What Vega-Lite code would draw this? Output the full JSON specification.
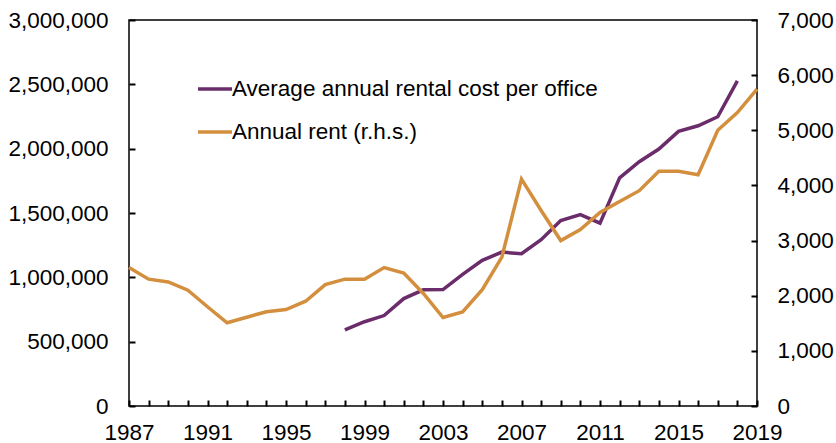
{
  "$schema": "https://vega.github.io/schema/vega-lite/v6.json",
  "width": 628,
  "height": 386,
  "autosize": {"type": "none"},
  "padding": {"left": 129, "top": 20, "right": 79, "bottom": 37},
  "background": "white",
  "config": {
    "font": "Liberation Sans",
    "view": {"stroke": "black", "strokeWidth": 1.5},
    "axis": {"labelFont": "Liberation Sans", "labelFontSize": 22.5, "labelColor": "black", "domain": false, "ticks": true, "tickColor": "#000000", "tickOpacity": 1, "grid": false, "title": null, "tickWidth": 2, "tickSize": 6, "offset": -6, "zindex": 2}
  },
  "data": {"values": [
    {"year": 1998, "series": "Average annual rental cost per office", "value": 592000},
    {"year": 1999, "series": "Average annual rental cost per office", "value": 655000},
    {"year": 2000, "series": "Average annual rental cost per office", "value": 703000},
    {"year": 2001, "series": "Average annual rental cost per office", "value": 835000},
    {"year": 2002, "series": "Average annual rental cost per office", "value": 903000},
    {"year": 2003, "series": "Average annual rental cost per office", "value": 905000},
    {"year": 2004, "series": "Average annual rental cost per office", "value": 1023000},
    {"year": 2005, "series": "Average annual rental cost per office", "value": 1132000},
    {"year": 2006, "series": "Average annual rental cost per office", "value": 1196000},
    {"year": 2007, "series": "Average annual rental cost per office", "value": 1183000},
    {"year": 2008, "series": "Average annual rental cost per office", "value": 1292000},
    {"year": 2009, "series": "Average annual rental cost per office", "value": 1442000},
    {"year": 2010, "series": "Average annual rental cost per office", "value": 1488000},
    {"year": 2011, "series": "Average annual rental cost per office", "value": 1421000},
    {"year": 2012, "series": "Average annual rental cost per office", "value": 1773000},
    {"year": 2013, "series": "Average annual rental cost per office", "value": 1899000},
    {"year": 2014, "series": "Average annual rental cost per office", "value": 1997000},
    {"year": 2015, "series": "Average annual rental cost per office", "value": 2134000},
    {"year": 2016, "series": "Average annual rental cost per office", "value": 2178000},
    {"year": 2017, "series": "Average annual rental cost per office", "value": 2248000},
    {"year": 2018, "series": "Average annual rental cost per office", "value": 2527000},
    {"year": 1987, "series": "Annual rent (r.h.s.)", "value": 2510},
    {"year": 1988, "series": "Annual rent (r.h.s.)", "value": 2300},
    {"year": 1989, "series": "Annual rent (r.h.s.)", "value": 2250},
    {"year": 1990, "series": "Annual rent (r.h.s.)", "value": 2100},
    {"year": 1991, "series": "Annual rent (r.h.s.)", "value": 1800},
    {"year": 1992, "series": "Annual rent (r.h.s.)", "value": 1510},
    {"year": 1993, "series": "Annual rent (r.h.s.)", "value": 1610},
    {"year": 1994, "series": "Annual rent (r.h.s.)", "value": 1710},
    {"year": 1995, "series": "Annual rent (r.h.s.)", "value": 1750},
    {"year": 1996, "series": "Annual rent (r.h.s.)", "value": 1900},
    {"year": 1997, "series": "Annual rent (r.h.s.)", "value": 2200},
    {"year": 1998, "series": "Annual rent (r.h.s.)", "value": 2300},
    {"year": 1999, "series": "Annual rent (r.h.s.)", "value": 2300},
    {"year": 2000, "series": "Annual rent (r.h.s.)", "value": 2510},
    {"year": 2001, "series": "Annual rent (r.h.s.)", "value": 2410},
    {"year": 2002, "series": "Annual rent (r.h.s.)", "value": 2040},
    {"year": 2003, "series": "Annual rent (r.h.s.)", "value": 1605},
    {"year": 2004, "series": "Annual rent (r.h.s.)", "value": 1705},
    {"year": 2005, "series": "Annual rent (r.h.s.)", "value": 2110},
    {"year": 2006, "series": "Annual rent (r.h.s.)", "value": 2700},
    {"year": 2007, "series": "Annual rent (r.h.s.)", "value": 4115},
    {"year": 2008, "series": "Annual rent (r.h.s.)", "value": 3545},
    {"year": 2009, "series": "Annual rent (r.h.s.)", "value": 3000},
    {"year": 2010, "series": "Annual rent (r.h.s.)", "value": 3200},
    {"year": 2011, "series": "Annual rent (r.h.s.)", "value": 3510},
    {"year": 2012, "series": "Annual rent (r.h.s.)", "value": 3710},
    {"year": 2013, "series": "Annual rent (r.h.s.)", "value": 3905},
    {"year": 2014, "series": "Annual rent (r.h.s.)", "value": 4255},
    {"year": 2015, "series": "Annual rent (r.h.s.)", "value": 4255},
    {"year": 2016, "series": "Annual rent (r.h.s.)", "value": 4195},
    {"year": 2017, "series": "Annual rent (r.h.s.)", "value": 5000},
    {"year": 2018, "series": "Annual rent (r.h.s.)", "value": 5320},
    {"year": 2019, "series": "Annual rent (r.h.s.)", "value": 5745}
  ]},
  "encoding": {
    "x": {
      "field": "year", "type": "quantitative",
      "scale": {"domain": [1987, 2019], "nice": false, "zero": false},
      "axis": {
        "values": [1987,1988,1989,1990,1991,1992,1993,1994,1995,1996,1997,1998,1999,2000,2001,2002,2003,2004,2005,2006,2007,2008,2009,2010,2011,2012,2013,2014,2015,2016,2017,2018,2019],
        "format": "d",
        "labelExpr": "(datum.value - 1987) % 4 == 0 ? datum.label : ''",
        "labelOverlap": false,
        "labelFlush": false,
        "labelPadding": 15
      }
    },
    "color": {
      "field": "series", "type": "nominal",
      "scale": {"domain": ["Average annual rental cost per office", "Annual rent (r.h.s.)"], "range": ["#6a2c6a", "#d38f3e"]},
      "legend": {
        "title": null, "orient": "none", "legendX": 67, "legendY": 50,
        "symbolType": "stroke", "symbolSize": 1156, "symbolStrokeWidth": 3.5,
        "labelFontSize": 22.5, "labelFont": "Liberation Sans", "labelColor": "black",
        "labelOffset": -2, "rowPadding": 12, "padding": 0, "labelLimit": 600
      }
    }
  },
  "layer": [
    {
      "transform": [{"filter": "datum.series == 'Average annual rental cost per office'"}],
      "mark": {"type": "line", "strokeWidth": 3.5},
      "encoding": {
        "y": {
          "field": "value", "type": "quantitative",
          "scale": {"domain": [0, 3000000], "nice": false},
          "axis": {"orient": "left", "values": [0,500000,1000000,1500000,2000000,2500000,3000000], "format": ",d", "labelPadding": 21}
        }
      }
    },
    {
      "transform": [{"filter": "datum.series == 'Annual rent (r.h.s.)'"}],
      "mark": {"type": "line", "strokeWidth": 3.5},
      "encoding": {
        "y": {
          "field": "value", "type": "quantitative",
          "scale": {"domain": [0, 7000], "nice": false},
          "axis": {"orient": "right", "values": [0,1000,2000,3000,4000,5000,6000,7000], "format": ",d", "labelPadding": 20}
        }
      }
    }
  ],
  "resolve": {"scale": {"y": "independent"}}
}
